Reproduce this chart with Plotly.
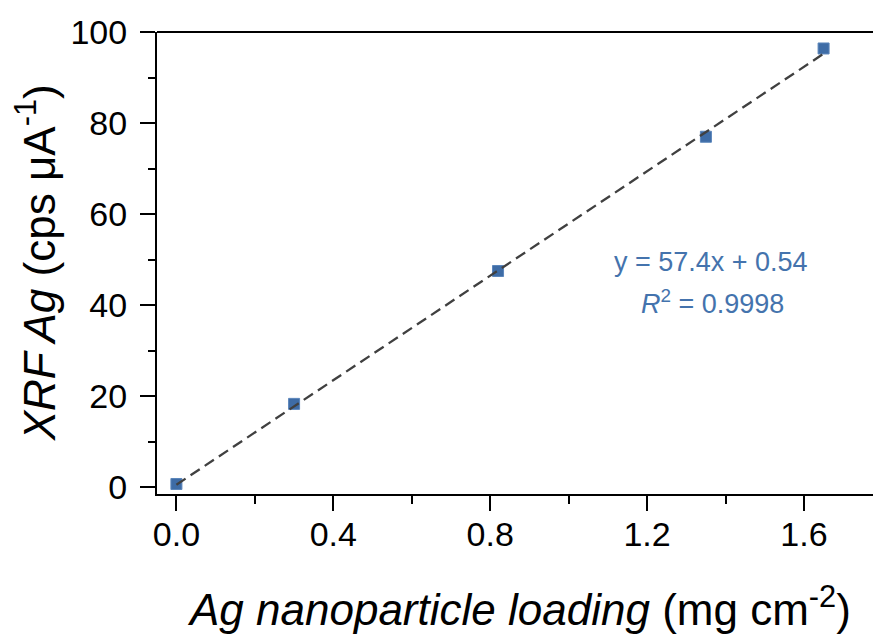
import plotly.graph_objects as go

# Data
loading = [0.0, 0.30, 0.82, 1.35, 1.65]          # mg cm^-2
xrf_ag = [0.7, 18.3, 47.5, 77.0, 96.4]          # cps uA^-1
fit_slope = 57.4
fit_intercept = 0.54
r_squared = "0.9998"

x_tick_vals = [0.0, 0.4, 0.8, 1.2, 1.6]
x_tick_text = ["0.0", "0.4", "0.8", "1.2", "1.6"]
y_tick_vals = [0, 20, 40, 60, 80, 100]

FONT = "Arial, 'Liberation Sans', sans-serif"
MARK_COLOR = "#3e6ca6"
TEXT_BLUE = "#4473ad"

fit_x = [min(loading), max(loading)]
fit_y = [fit_slope * v + fit_intercept for v in fit_x]

fig = go.Figure()
fig.add_trace(go.Scatter(
    x=loading, y=xrf_ag, mode="markers",
    marker=dict(symbol="square", size=11, color=MARK_COLOR,
                line=dict(width=1, color="#5b86bb")),
    showlegend=False, cliponaxis=False,
))
fig.add_trace(go.Scatter(
    x=fit_x, y=fit_y, mode="lines",
    line=dict(color="#404040", width=2.3, dash="11px,6px"),
    showlegend=False, cliponaxis=False,
))

fig.update_layout(
    width=873, height=635,
    margin=dict(l=157, r=0, t=32, b=141),
    paper_bgcolor="white", plot_bgcolor="white",
    font=dict(family=FONT, color="black"),
    xaxis=dict(
        range=[-0.0495, 1.776], showgrid=False, zeroline=False,
        showline=True, linecolor="black", linewidth=2,
        ticks="outside", ticklen=15, tickwidth=2, tickcolor="black",
        tickvals=x_tick_vals, ticktext=x_tick_text,
        tickfont=dict(size=34, family=FONT, color="black"),
        minor=dict(dtick=0.2, tick0=0, ticks="outside", ticklen=8,
                   tickwidth=2, tickcolor="black", showgrid=False),
        ticklabelstandoff=-6,
    ),
    yaxis=dict(
        range=[-1.5, 100.02], showgrid=False, zeroline=False,
        showline=True, linecolor="black", linewidth=2,
        ticks="outside", ticklen=15, tickwidth=2, tickcolor="black",
        tickvals=y_tick_vals,
        tickfont=dict(size=34, family=FONT, color="black"),
        minor=dict(dtick=10, tick0=0, ticks="outside", ticklen=7,
                   tickwidth=2, tickcolor="black", showgrid=False),
        ticklabelstandoff=6,
    ),
    shapes=[dict(type="line", xref="paper", yref="paper", x0=0, x1=1, y0=1, y1=1,
                 line=dict(color="black", width=2))],
    annotations=[
        dict(text="<i>Ag nanoparticle loading</i> (mg cm<sup>-2</sup>)",
             xref="paper", yref="paper", x=0.5056, y=-0.2444,
             xanchor="center", yanchor="middle", showarrow=False,
             font=dict(size=44, family=FONT, color="black")),
        dict(text="<i>XRF Ag</i> (cps μA<sup>-1</sup>)",
             xref="paper", yref="paper", x=-0.170, y=0.5, textangle=-90,
             xanchor="center", yanchor="middle", showarrow=False,
             font=dict(size=44, family=FONT, color="black")),
        dict(text="y = %.1fx + %.2f" % (fit_slope, fit_intercept),
             xref="x", yref="y", x=1.362, y=49.4,
             xanchor="center", yanchor="middle", showarrow=False,
             font=dict(size=27, family=FONT, color=TEXT_BLUE)),
        dict(text="<i>R</i><sup>2</sup> = " + r_squared,
             xref="x", yref="y", x=1.367, y=40.6,
             xanchor="center", yanchor="middle", showarrow=False,
             font=dict(size=27, family=FONT, color=TEXT_BLUE)),
    ],
)

fig.write_html(
    "out.html",
    config={"displayModeBar": False},
    post_script="document.body.style.margin='0';document.body.style.overflow='hidden';",
)
